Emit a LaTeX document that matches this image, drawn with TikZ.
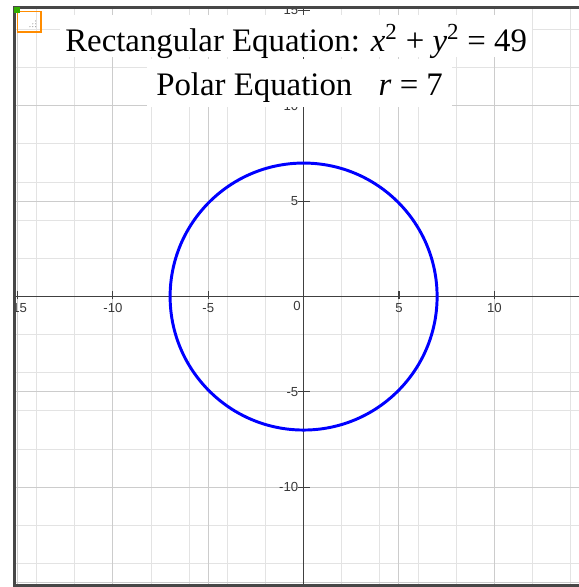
\documentclass[tikz,border=0pt]{standalone}
\usepackage{fontspec}
\setmainfont{Liberation Serif}
\setsansfont{Liberation Sans}
\usetikzlibrary{positioning}

\begin{document}
\begin{tikzpicture}[
  x=0.5cm, y=0.5cm,
  minorgrid/.style={draw=black!11, line width=0.75pt},
  majorgrid/.style={draw=black!20, line width=0.75pt},
  axis/.style={draw=black!75, line width=1.1pt},
  frame/.style={draw=black!72, line width=2.2pt},
  ticklabel/.style={font=\sffamily\fontsize{9.8}{11}\selectfont, text=black!78, inner sep=0pt},
  title/.style={fill=white, inner sep=0pt, align=center, font=\fontsize{24.5}{29}\selectfont},
  curve/.style={draw=blue, line width=2.2pt}
]
\useasboundingbox (-15.92,-15.23) rectangle (14.39,15.55);
\coordinate (titletop) at (-0.39,14.76);
\begin{scope}
  \clip (-15.15,-15.13) rectangle (14.5,15.18);
  \draw[minorgrid] (-16,-16) grid (15,16);
  \foreach \t in {-15,-10,...,10} {
    \draw[majorgrid] (\t,-16) -- (\t,16);
    \draw[majorgrid] (-16,\t) -- (15,\t);
  }
  \draw[axis] (-16,0) -- (15,0);
  \draw[axis] (0,-16) -- (0,16);
  \foreach \t in {-15,-10,-5,5,10} {
    \draw[axis, line width=0.8pt] (\t,-0.15) -- (\t,0.28);
    \node[ticklabel] (xl\t) at (\t,-0.6) {\t};
  }
  \foreach \t in {-10,-5,5,10,15} {
    \draw[axis, line width=0.8pt] (-0.28,\t) -- (0.35,\t);
    \node[ticklabel, anchor=east] (yl\t) at (-0.27,\t) {\t};
  }
  \node[ticklabel] (origin) at (-0.34,-0.52) {0};
\end{scope}
\draw[curve] (0,0) circle (7);
\node[title, anchor=north, minimum width=12.375cm, text height=0.944cm, text depth=0.157cm] (rect) at (titletop)
  {Rectangular Equation: \textit{x}\textsuperscript{2} + \textit{y}\textsuperscript{2} = 49};
\node[title, below=0.04cm of rect, xshift=0.09cm, minimum width=8cm, text height=0.957cm, text depth=0.288cm] (polar)
  {Polar Equation\hspace{0.8em}\textit{r} = 7};
\draw[frame] (15,15.18) -- (-15.15,15.18) -- (-15.15,-15.13) -- (15,-15.13);
\draw[draw=orange!90!yellow, line width=0.8pt] (-15.02,13.87) rectangle (-13.77,14.97);
\foreach \p in {(-14.2,14.3),(-14.05,14.3),(-14.05,14.45),(-14.35,14.15),(-14.2,14.15),(-14.05,14.15)}
  \fill[black!45] \p circle (0.03);
\fill[green!60!black!80!yellow] (-15.2,14.87) rectangle (-14.87,15.2);
\end{tikzpicture}
\end{document}
